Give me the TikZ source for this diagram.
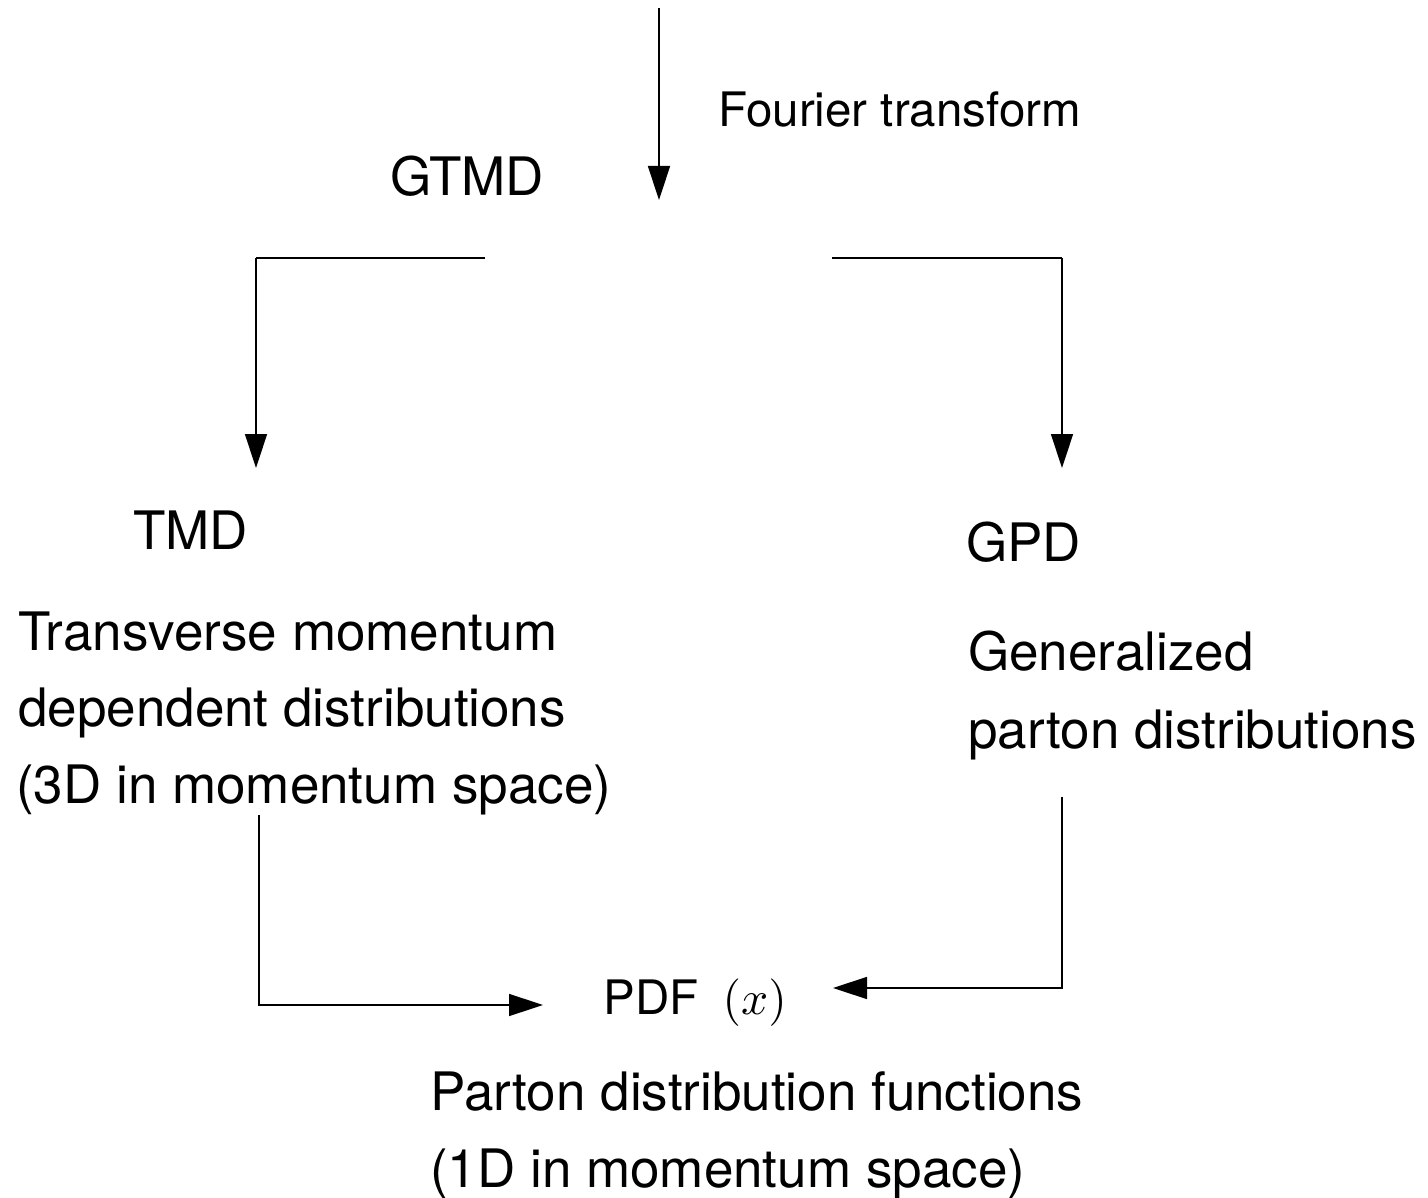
\documentclass[tikz,border=0pt]{standalone}
\usepackage{fontspec}
\setmainfont{TeX Gyre Heros}
\usepackage{tikz}
\usetikzlibrary{arrows.meta}
\tikzset{
  base/.style={draw=black, line width=1.5pt},
  bar/.style={draw=black, line width=2.4pt},
  arr/.style={-{Triangle[length=34pt,width=22pt]}},
  lab/.style={anchor=base west, inner sep=0pt, font=\fontsize{53}{60}\selectfont},
  labs/.style={anchor=base west, inner sep=0pt, font=\fontsize{47.5}{55}\selectfont},
  labm/.style={anchor=base west, inner sep=0pt, font=\fontsize{10}{12}\selectfont, scale=4.75},
}

\begin{document}
\begin{tikzpicture}[x=1pt, y=-1pt]
  \useasboundingbox (0,0) rectangle (1428,1198);
  % end points of the connectors
  \coordinate (ftop) at (659,8);
  \coordinate (fend) at (659,200);
  \coordinate (gl) at (485,258);
  \coordinate (tl) at (256,468);
  \coordinate (gr) at (832,258);
  \coordinate (tr) at (1062,468);
  \coordinate (tb) at (259,815);
  \coordinate (pl) at (543,1005);
  \coordinate (gb) at (1062,797);
  \coordinate (pr) at (833,988);
  % labels
  \node[labs] (ft) at (718,127) {Fourier transform};
  \node[lab] (gtmd) at (390,196) {GTMD};
  \node[lab] (tmd) at (133,549) {TMD};
  \node[lab] (gpd) at (966,561) {GPD};
  \node[lab] (tmd1) at (18,650) {Transverse momentum};
  \node[lab] (tmd2) at (18,726) {dependent distributions};
  \node[lab] (tmd3) at (16,803) {(3D in momentum space)};
  \node[lab] (gpd1) at (968,670) {Generalized};
  \node[lab] (gpd2) at (968,748) {parton distributions};
  \node[labm] (pdf) at (603,1014) {PDF\hspace{5pt}$(x)$};
  \node[lab] (pdf1) at (430,1110) {Parton distribution functions};
  \node[lab] (pdf2) at (430,1187) {(1D in momentum space)};
  % connectors
  \draw[base,arr] (ftop) -- (fend);
  \draw[bar] (gl) -- (tl |- gl);
  \draw[base,arr] (tl |- gl) -- (tl);
  \draw[bar] (gr) -- (tr |- gr);
  \draw[base,arr] (tr |- gr) -- (tr);
  \draw[base,arr] (tb) |- (pl);
  \draw[base,arr] (gb) |- (pr);
\end{tikzpicture}
\end{document}
